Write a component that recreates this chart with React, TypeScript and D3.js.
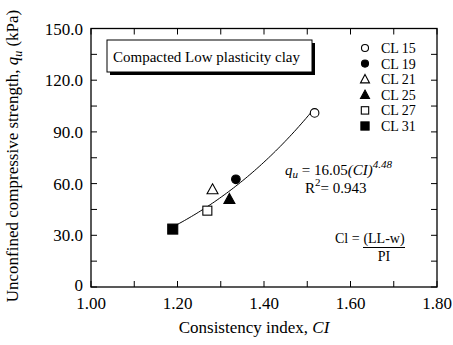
import React from "react";
import * as d3 from "d3";

// Soil samples: consistency index vs unconfined compressive strength
const samples = ["CL 15", "CL 19", "CL 21", "CL 25", "CL 27", "CL 31"];
const ciValues = [1.517, 1.335, 1.281, 1.32, 1.269, 1.189];
const quValues = [101.0, 62.5, 56.7, 51.1, 44.3, 33.6];
const markerKinds = ["circle-open", "circle", "triangle-open", "triangle", "square-open", "square"];

// Power-law fit qu = a * CI^b
const fitA = 16.05;
const fitB = 4.48;
const fitRange = [1.189, 1.513];

const xTicks = [1.0, 1.2, 1.4, 1.6, 1.8];
const xMinor = [1.1, 1.3, 1.5, 1.7];
const yTicks = [0, 30, 60, 90, 120, 150];
const yMinor = [15, 45, 75, 105, 135];

const W = 453;
const H = 345;
const left = 91;
const right = 437;
const top = 28.5;
const bottom = 287;
const FONT = "'Liberation Serif', 'Times New Roman', serif";

function Marker({ kind, x, y, k = 1 }: { kind: string; x: number; y: number; k?: number }) {
  const open = kind.endsWith("open");
  const fill = open ? "#fff" : "#000";
  const stroke = "#000";
  const sw = 1.1;
  if (kind.startsWith("circle")) {
    return <circle cx={x} cy={y} r={4.3 * k} fill={fill} stroke={stroke} strokeWidth={sw} />;
  }
  if (kind.startsWith("square")) {
    const s = (open ? 9 : 10) * k;
    return <rect x={x - s / 2} y={y - s / 2} width={s} height={s} fill={fill} stroke={stroke} strokeWidth={sw} />;
  }
  const h = 9 * k;
  const hw = 5.5 * k;
  const p = `M${x},${y - h / 2 - 1}L${x + hw},${y + h / 2}L${x - hw},${y + h / 2}Z`;
  return <path d={p} fill={fill} stroke={stroke} strokeWidth={sw} strokeLinejoin="miter" />;
}

export default function App() {
  const x = d3.scaleLinear().domain([1.0, 1.8]).range([left, right]);
  const y = d3.scaleLinear().domain([0, 150]).range([bottom, top]);

  const fitPts = d3.range(0, 61).map((i) => {
    const ci = fitRange[0] + ((fitRange[1] - fitRange[0]) * i) / 60;
    return [ci, fitA * Math.pow(ci, fitB)] as [number, number];
  });
  const fitLine = d3
    .line<[number, number]>()
    .x((d) => x(d[0]))
    .y((d) => y(d[1]))
    .curve(d3.curveMonotoneX)(fitPts);

  const tickLen = 6;
  const allX = [...xTicks, ...xMinor];
  const allY = [...yTicks, ...yMinor];

  const legendX = 365;
  const legendY0 = 48;
  const legendStep = 15.6;

  return (
    <svg
      width={W}
      height={H}
      style={{ position: "absolute", left: 0, top: 0, background: "#fff" }}
      fontFamily={FONT}
    >
      <rect width={W} height={H} fill="#fff" />
      {/* ticks, inward on all four sides */}
      <g stroke="#000" strokeWidth={1}>
        {allX.map((t) => (
          <g key={"x" + t}>
            <line x1={x(t)} x2={x(t)} y1={bottom} y2={bottom - tickLen} />
            <line x1={x(t)} x2={x(t)} y1={top} y2={top + tickLen} />
          </g>
        ))}
        {allY.map((t) => (
          <g key={"y" + t}>
            <line x1={left} x2={left + tickLen} y1={y(t)} y2={y(t)} />
            <line x1={right} x2={right - tickLen} y1={y(t)} y2={y(t)} />
          </g>
        ))}
      </g>
      <rect x={left} y={top} width={right - left} height={bottom - top} fill="none" stroke="#000" strokeWidth={1.3} />

      {/* tick labels */}
      <g fontSize={17} fill="#000">
        {xTicks.map((t) => (
          <text key={"xl" + t} x={x(t)} y={309} textAnchor="middle">
            {t.toFixed(2)}
          </text>
        ))}
        {yTicks.map((t) => (
          <text key={"yl" + t} x={83} y={y(t) + (t === 0 ? 4 : 6)} textAnchor="end">
            {t === 0 ? "0" : t.toFixed(1)}
          </text>
        ))}
      </g>

      {/* axis titles */}
      <text x={(left + right) / 2 - 10} y={333} fontSize={17} textAnchor="middle">
        Consistency index, <tspan fontStyle="italic">CI</tspan>
      </text>
      <text transform={`translate(18, ${156}) rotate(-90)`} fontSize={17} textAnchor="middle">
        Unconfined compressive strength, <tspan fontStyle="italic">q</tspan>
        <tspan fontStyle="italic" fontSize={12} dy={4}>u</tspan>
        <tspan dy={-4}> (kPa)</tspan>
      </text>

      {/* title box with drop shadow */}
      <rect x={110} y={43} width={205} height={32} fill="#000" />
      <rect x={107} y={40} width={205} height={32} fill="#fff" stroke="#000" strokeWidth={1} />
      <text x={113} y={62} fontSize={15}>
        Compacted Low plasticity clay
      </text>

      {/* fitted curve */}
      <path d={fitLine ?? ""} fill="none" stroke="#000" strokeWidth={1} />

      {/* data points */}
      {samples.map((s, i) => (
        <Marker key={s} kind={markerKinds[i]} x={x(ciValues[i])} y={y(quValues[i])} />
      ))}

      {/* legend */}
      {samples.map((s, i) => (
        <g key={"lg" + s}>
          <Marker kind={markerKinds[i]} x={legendX} y={legendY0 + i * legendStep} k={0.82} />
          <text x={legendX + 16} y={legendY0 + i * legendStep + 5} fontSize={14}>
            {s}
          </text>
        </g>
      ))}

      {/* fit equation */}
      <text x={285} y={175} fontSize={15}>
        <tspan fontStyle="italic">q</tspan>
        <tspan fontStyle="italic" fontSize={11} dy={3}>u</tspan>
        <tspan dy={-3}> = 16.05</tspan>
        <tspan fontStyle="italic">(CI)</tspan>
        <tspan fontStyle="italic" fontSize={11} dy={-7}>4.48</tspan>
      </text>
      <text x={305} y={193} fontSize={15}>
        R<tspan fontSize={11} dy={-7}>2</tspan>
        <tspan dy={7}>= 0.943</tspan>
      </text>

      {/* consistency index definition */}
      <text x={335} y={243} fontSize={14}>
        Cl =
      </text>
      <text x={384} y={243} fontSize={14} textAnchor="middle">
        (LL-w)
      </text>
      <line x1={363} x2={405} y1={247.5} y2={247.5} stroke="#000" strokeWidth={1} />
      <text x={384} y={261} fontSize={14} textAnchor="middle">
        PI
      </text>
    </svg>
  );
}
